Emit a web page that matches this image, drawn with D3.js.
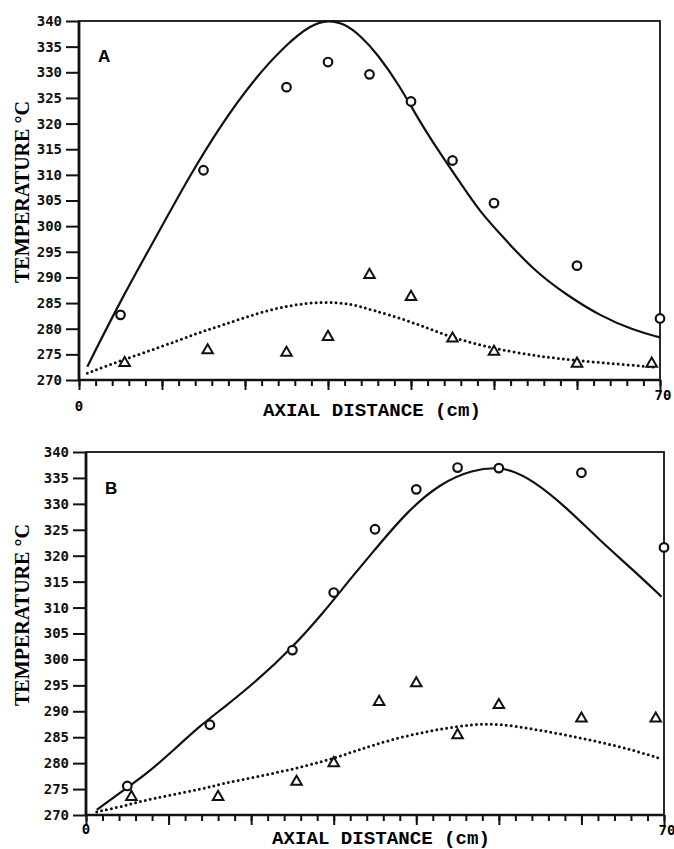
<!DOCTYPE html>
<html>
<head>
<meta charset="utf-8">
<script src="https://cdn.jsdelivr.net/npm/d3@7"></script>
<style>
  body { margin: 0; background: #fff; }
  svg { display: block; }
  .tick text { font-family: "DejaVu Sans Mono", monospace; font-weight: bold; font-size: 14px; fill: #111; }
  .tick line { stroke: #111; stroke-width: 2; }
</style>
</head>
<body>
<div id="chart"></div>
<script>
// temperatures (cm, deg C)
var ticksY = [270, 275, 280, 285, 290, 295, 300, 305, 310, 315, 320, 325, 330, 335, 340];

var circlesA = [[5, 282.7], [15, 310.9], [25, 327.1], [30, 332], [35, 329.6], [40, 324.3],
                [45, 312.8], [50, 304.5], [60, 292.3], [70, 282]];
var trianglesA = [[5.5, 273.3], [15.5, 275.8], [25, 275.3], [30, 278.4], [35, 290.5], [40, 286.2],
                  [45, 278.1], [50, 275.5], [60, 273.2], [69, 273.2]];
var solidA = [[1, 272.6], [5, 285.5], [10, 300], [13.3, 309.7], [17, 319.5], [21, 328.5], [25, 335.5],
              [28, 339.3], [30, 340.2], [32, 339.5], [34, 337], [36, 333.5], [38.7, 327.2], [41, 320.5],
              [43.5, 314.2], [46, 308.3], [48.3, 302.8], [51, 298], [54.7, 291.5], [58.8, 286.5],
              [62.8, 282.5], [66.8, 279.7], [70, 278.3]];
var dottedA = [[1, 271.3], [5, 273.8], [10, 276.5], [14, 279], [17.3, 280.7], [21.4, 283], [25.4, 284.6],
               [29.4, 285.3], [32.7, 284.9], [35.4, 283.6], [39.5, 281.7], [43.5, 279.1], [47.5, 277.1],
               [52, 275.5], [56, 274.5], [60, 273.8], [65, 273.1], [69.5, 272.5]];

var circlesB = [[5, 275.6], [15, 287.4], [25, 301.8], [30, 312.9], [35, 325.1], [40, 332.8],
                [45, 337], [50, 336.9], [60, 336], [70, 321.6]];
var trianglesB = [[5.5, 273.5], [16, 273.5], [25.5, 276.4], [30, 280], [35.5, 291.8], [40, 295.4],
                  [45, 285.4], [50, 291.2], [60, 288.6], [69, 288.6]];
var solidB = [[1.3, 271], [5, 275.3], [7.4, 278], [10.6, 282.5], [13.8, 287.2], [16.6, 290.6],
              [20.7, 295.9], [24.7, 301.8], [28.7, 308.9], [32, 315.5], [34.8, 320.8], [38.8, 328.4],
              [42.9, 334], [46.9, 336.6], [49.7, 337], [51.3, 336.6], [54.1, 334.6], [58.2, 329.3],
              [62.2, 323], [66.3, 317.2], [69.7, 312.1]];
var dottedB = [[1.3, 270.6], [3, 271.2], [5, 271.9], [6.5, 272.6], [10, 273.8], [13.8, 274.9],
               [16.6, 276.1], [20.7, 277.4], [24.7, 278.7], [28.7, 280.3], [32, 282], [34.8, 283.5],
               [38.8, 285.3], [42.9, 286.6], [46.9, 287.5], [50.1, 287.6], [54.1, 286.6], [58.2, 285.4],
               [62.2, 284.1], [66.3, 282.5], [69.5, 280.9]];

var svg = d3.select("#chart").append("svg")
    .attr("width", 674)
    .attr("height", 849);

// one panel
function drawPanel(p) {
    var x = d3.scaleLinear().domain([0, 70]).range([p.left, p.right]);
    var y = d3.scaleLinear().domain([270, 340]).range([p.bottom, p.top]);
    var g = svg.append("g");

    // frame
    g.append("rect")
        .attr("x", p.left).attr("y", p.top)
        .attr("width", p.right - p.left).attr("height", p.bottom - p.top)
        .attr("fill", "none").attr("stroke", "#111").attr("stroke-width", 1.8);
    g.append("line")
        .attr("x1", p.left).attr("x2", p.left).attr("y1", p.top).attr("y2", p.bottom)
        .attr("stroke", "#111").attr("stroke-width", 2.8);
    g.append("line")
        .attr("x1", p.left).attr("x2", p.right).attr("y1", p.bottom).attr("y2", p.bottom)
        .attr("stroke", "#111").attr("stroke-width", 2.6);

    // y axis
    var ya = g.append("g")
        .attr("transform", "translate(" + p.left + ",0)")
        .call(d3.axisLeft(y).tickValues(ticksY).tickSize(13).tickPadding(4));
    ya.select(".domain").remove();

    // x ticks, minor every 2 cm, major every 10
    var xm = g.append("g")
        .attr("transform", "translate(0," + p.bottom + ")")
        .call(d3.axisBottom(x).tickValues(d3.range(0, 71, 2)).tickSize(6).tickFormat(""));
    xm.select(".domain").remove();
    var xM = g.append("g")
        .attr("transform", "translate(0," + p.bottom + ")")
        .call(d3.axisBottom(x).tickValues(d3.range(0, 71, 10)).tickSize(10).tickFormat(""));
    xM.select(".domain").remove();

    g.append("text")
        .attr("x", x(0)).attr("y", p.bottom + p.zeroDy)
        .attr("text-anchor", "middle")
        .style("font", "bold 14px 'DejaVu Sans Mono', monospace")
        .text("0");
    g.append("text")
        .attr("x", x(70) + 3).attr("y", p.bottom + 20)
        .attr("text-anchor", "middle")
        .style("font", "bold 14px 'DejaVu Sans Mono', monospace")
        .text("70");

    // axis titles
    g.append("text")
        .attr("x", p.xTitleX).attr("y", p.bottom + p.xTitleDy)
        .attr("text-anchor", "middle")
        .attr("textLength", 218).attr("lengthAdjust", "spacingAndGlyphs")
        .style("font", "bold 19px 'Liberation Mono', monospace")
        .text("AXIAL DISTANCE (cm)");
    g.append("text")
        .attr("transform", "translate(29," + p.yTitleY + ") rotate(-90)")
        .attr("text-anchor", "middle")
        .attr("textLength", 182).attr("lengthAdjust", "spacingAndGlyphs")
        .style("font", "20px 'Liberation Serif', serif")
        .style("font-weight", "bold")
        .text("TEMPERATURE °C");

    g.append("text")
        .attr("x", p.labelX).attr("y", p.labelY)
        .style("font", "bold 17px 'Liberation Sans', sans-serif")
        .text(p.label);

    // curves
    var line = d3.line()
        .x(function (d) { return x(d[0]); })
        .y(function (d) { return y(d[1]); })
        .curve(d3.curveBasis);

    g.append("path")
        .datum(p.solid)
        .attr("d", line)
        .attr("fill", "none").attr("stroke", "#111").attr("stroke-width", 2.2);

    g.append("path")
        .datum(p.dotted)
        .attr("d", line)
        .attr("fill", "none").attr("stroke", "#111").attr("stroke-width", 3)
        .attr("stroke-linecap", "round")
        .attr("stroke-dasharray", "0,5");

    // markers
    g.selectAll(".circ")
        .data(p.circles)
        .enter().append("circle")
        .attr("class", "circ")
        .attr("cx", function (d) { return x(d[0]); })
        .attr("cy", function (d) { return y(d[1]); })
        .attr("r", 4.3)
        .attr("fill", "#fff").attr("stroke", "#111").attr("stroke-width", 2.2);

    var tri = d3.symbol().type(d3.symbolTriangle).size(48);
    g.selectAll(".tri")
        .data(p.triangles)
        .enter().append("path")
        .attr("class", "tri")
        .attr("d", tri)
        .attr("transform", function (d) { return "translate(" + x(d[0]) + "," + y(d[1]) + ")"; })
        .attr("fill", "#fff").attr("stroke", "#111").attr("stroke-width", 2);
}

drawPanel({
    left: 79, right: 660, top: 21, bottom: 380,
    label: "A", labelX: 98, labelY: 62,
    xTitleX: 372, xTitleDy: 36, zeroDy: 31, yTitleY: 192,
    solid: solidA, dotted: dottedA, circles: circlesA, triangles: trianglesA
});

drawPanel({
    left: 86, right: 664, top: 452, bottom: 815,
    label: "B", labelX: 105, labelY: 494,
    xTitleX: 381, xTitleDy: 29, zeroDy: 19, yTitleY: 615,
    solid: solidB, dotted: dottedB, circles: circlesB, triangles: trianglesB
});
</script>
</body>
</html>
